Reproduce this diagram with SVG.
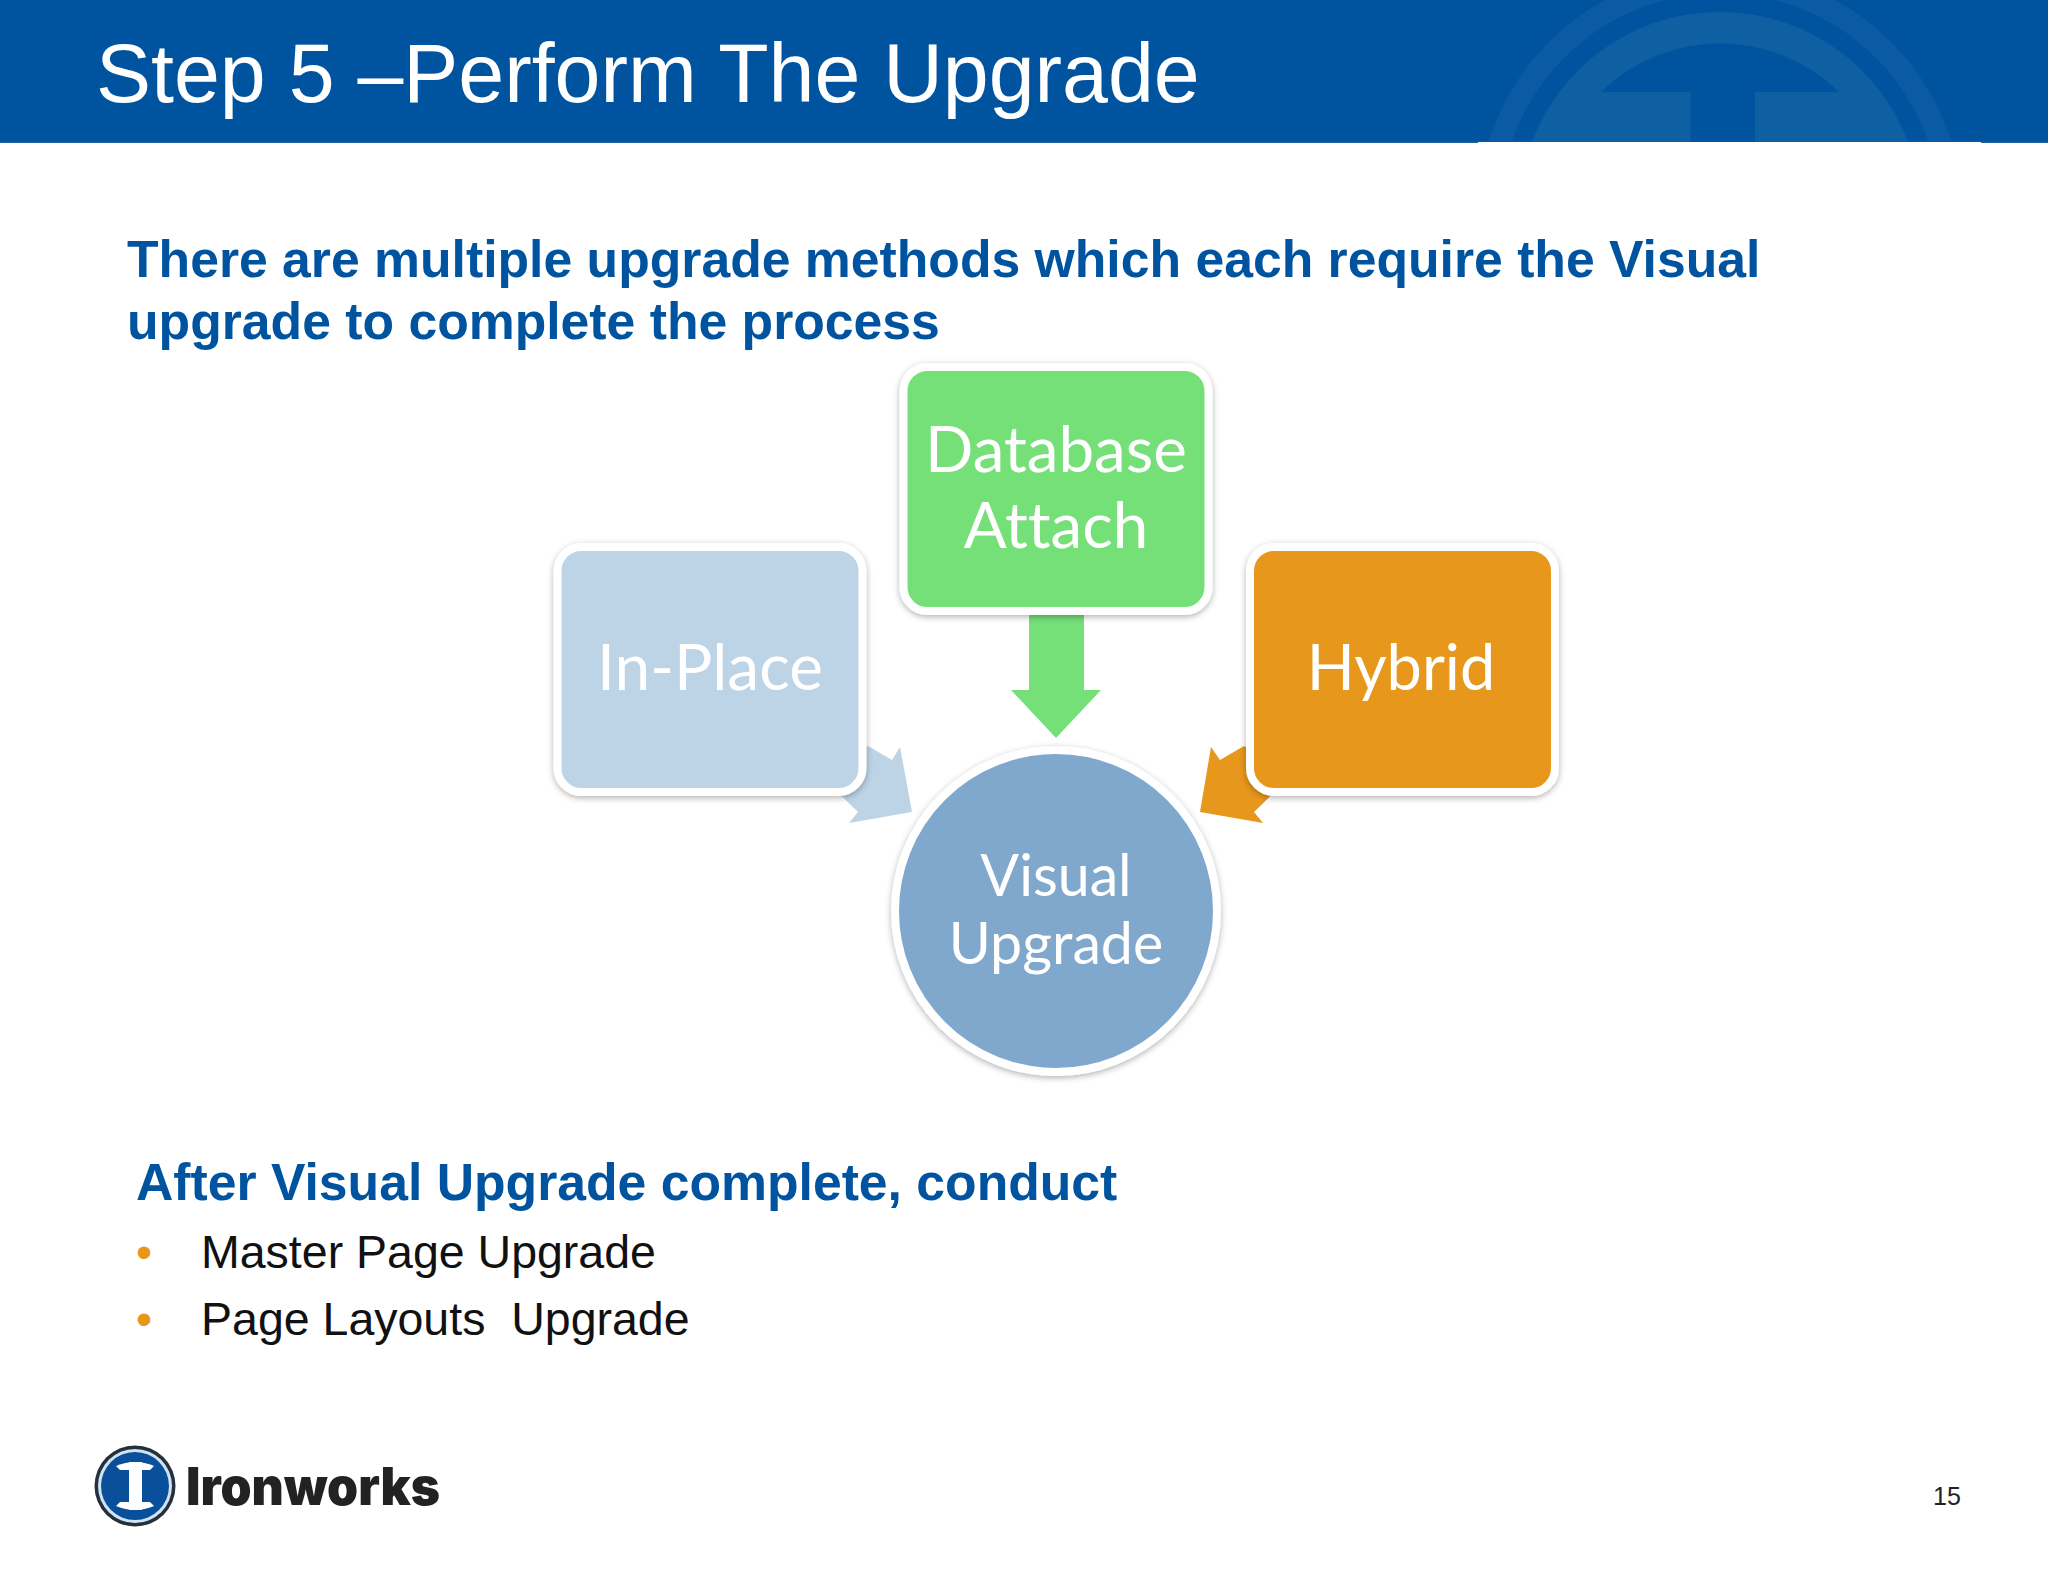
<svg xmlns="http://www.w3.org/2000/svg" width="2048" height="1582" viewBox="0 0 2048 1582">
<style>
.wm{fill:#0f5fa3}
.bg{fill:#00549f}
.sans{font-family:"Liberation Sans",Arial,sans-serif}
.head{font-size:51.700px;font-weight:700;fill:#00549f}
.body{font-size:46.500px;fill:#111}
.bul{font-size:46px;fill:#e8961a}
.nt{font-family:Lato,"Open Sans",sans-serif;fill:#fff;text-anchor:middle;font-variant-ligatures:none}
.box{stroke:#fff;stroke-width:8;filter:url(#sh)}
</style>
<defs>
<filter id="sh" x="-10%" y="-10%" width="120%" height="120%"><feDropShadow dx="0" dy="2" stdDeviation="3" flood-color="#000" flood-opacity=".3"/></filter>
<clipPath id="bn"><rect width="2048" height="143"/></clipPath>
</defs>
<rect width="2048" height="1582" fill="#fff"/>
<g id="banner">
<rect class="bg" width="2048" height="143"/>
<rect width="2048" height="1.500" y="141.500" fill="#1f6396"/>
<g clip-path="url(#bn)">
<circle cx="1720" cy="213" r="231" fill="none" stroke="#0a5ba3" stroke-width="22"/>
<circle class="wm" cx="1720" cy="213" r="201"/>
<path class="bg" d="M1601 92A170 170 0 0 1 1839 92Z"/>
<rect class="bg" x="1690.500" y="91" width="64.500" height="52"/>
</g>
<rect x="1478" y="142" width="503" height="2" fill="#fff"/>
<text class="sans" x="96" y="102" font-size="82.500" fill="#fff">Step 5 –Perform The Upgrade</text>
</g>
<g id="intro">
<text class="sans head" x="127" y="277">There are multiple upgrade methods which each require the Visual</text>
<text class="sans head" x="127" y="339">upgrade to complete the process</text>
</g>
<g id="connectors">
<polygon fill="#bdd3e6" points="868,746 892,760 900,747 912,812 849,823 858,812 820,775"/>
<polygon fill="#75df78" points="1029,610 1084,610 1084,690 1101,690 1056,738 1011,690 1029,690"/>
<polygon fill="#e7971b" points="1244,746 1220,760 1211,747 1200,812 1263,823 1254,812 1292,775"/>
</g>
<g id="node-in-place">
<rect class="box" x="557.500" y="547" width="305" height="245" rx="24" fill="#bdd3e6"/>
<text class="nt" x="710" y="690" font-size="64">In-Place</text>
</g>
<g id="node-database-attach">
<rect class="box" x="903.500" y="367" width="305" height="244" rx="24" fill="#75df78"/>
<text class="nt" x="1056" y="472" font-size="63.700">Database</text>
<text class="nt" x="1056" y="548" font-size="63.700">Attach</text>
</g>
<g id="node-hybrid">
<rect class="box" x="1250" y="547" width="305" height="245" rx="24" fill="#e7971b"/>
<text class="nt" x="1401" y="690" font-size="63">Hybrid</text>
</g>
<g id="node-visual-upgrade">
<circle class="box" cx="1056" cy="911" r="161" fill="#80a8cd"/>
<text class="nt" x="1056" y="896" font-size="57.300">Visual</text>
<text class="nt" x="1056" y="964" font-size="57.300">Upgrade</text>
</g>
<g id="after">
<text class="sans head" x="136" y="1200">After Visual Upgrade complete, conduct</text>
<text class="sans bul" x="136" y="1268">•</text>
<text class="sans body" x="201" y="1268">Master Page Upgrade</text>
<text class="sans bul" x="136" y="1335">•</text>
<text class="sans body" x="201" y="1335" xml:space="preserve">Page Layouts  Upgrade</text>
</g>
<g id="logo">
<circle cx="135" cy="1486" r="40.500" fill="#24303c"/>
<circle cx="135" cy="1486" r="37" fill="#cfe3f5"/>
<circle cx="135" cy="1486" r="34" fill="#0a4f9a"/>
<rect x="129" y="1462" width="13" height="48" fill="#fff"/>
<path d="M116 1466Q135 1458 154 1466L150 1470H120Z" fill="#fff"/>
<path d="M116 1506Q135 1514 154 1506L150 1502H120Z" fill="#fff"/>
<text x="186" y="1505" font-family="Inter,Lato,sans-serif" font-weight="900" font-size="52" textLength="254" lengthAdjust="spacingAndGlyphs" fill="#222">Ironworks</text>
</g>
<text class="sans" x="1933" y="1505" font-size="25" fill="#222">15</text>
</svg>
